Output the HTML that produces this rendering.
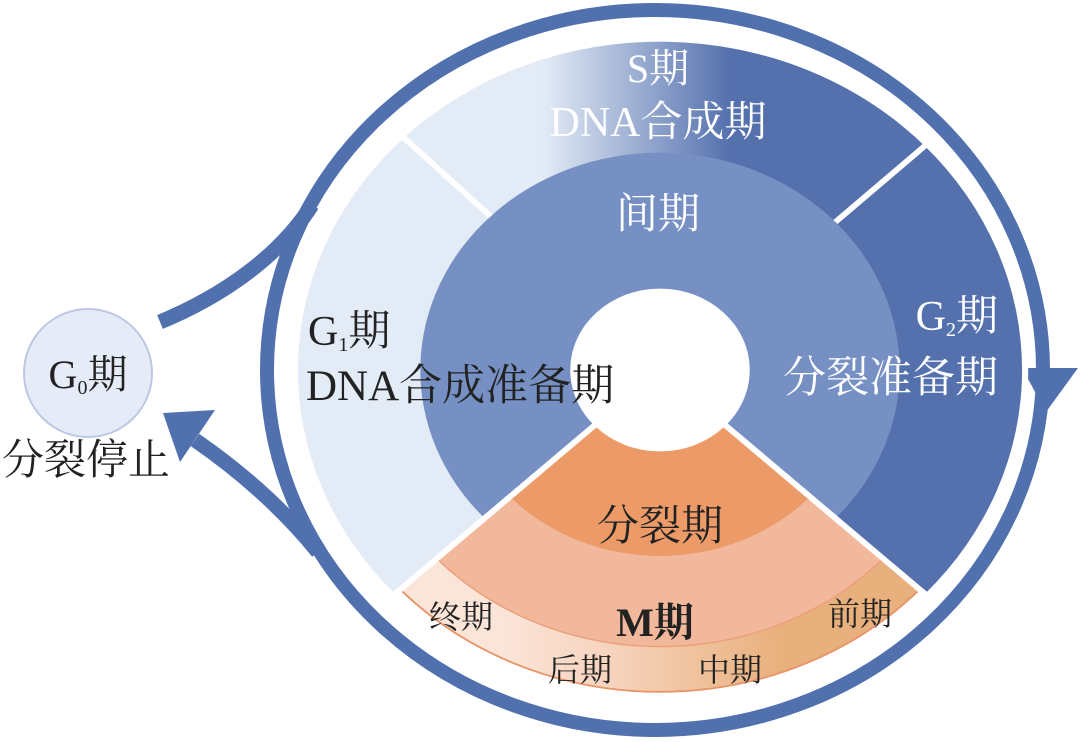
<!DOCTYPE html>
<html><head><meta charset="utf-8"><style>
html,body{margin:0;padding:0;background:#fff;}
svg{display:block;}
text{font-family:"Liberation Serif","Noto Serif CJK SC",serif;}
</style></head><body>
<svg width="1080" height="742" viewBox="0 0 1080 742" xmlns="http://www.w3.org/2000/svg">
<defs>
<linearGradient id="sg" gradientUnits="userSpaceOnUse" x1="-115" y1="0" x2="70" y2="0">
<stop offset="0" stop-color="#e3ebf6"/><stop offset="1" stop-color="#5470ad"/></linearGradient>
<linearGradient id="og" gradientUnits="userSpaceOnUse" x1="-150" y1="0" x2="120" y2="0">
<stop offset="0" stop-color="#fbe4d8"/><stop offset="0.4" stop-color="#f6d2bb"/><stop offset="1" stop-color="#e8b07c"/></linearGradient>
</defs>
<ellipse cx="655" cy="370" rx="388" ry="360" fill="none" stroke="#5170ae" stroke-width="14"/>
<path d="M160 322 C 225 295, 280 255, 312 205" fill="none" stroke="#5170ae" stroke-width="15"/>
<path d="M195 440 C 250 478, 288 515, 318 552" fill="none" stroke="#5170ae" stroke-width="15"/>
<polygon points="163,413 215,410 180,462" fill="#5170ae"/>
<polygon points="1022,368 1078,368 1046,412" fill="#5170ae"/>
<g transform="translate(660,370) scale(1.02,0.925)">
<circle r="361" fill="#fff"/>
<path d="M0 0 L-259.6 242.1 A355 355 0 0 1 -251 -251 Z" fill="#e3ebf6"/>
<path d="M0 0 L-251 -251 A355 355 0 0 1 259.6 -242.1 Z" fill="url(#sg)"/>
<path d="M0 0 L259.6 -242.1 A355 355 0 0 1 259.6 242.1 Z" fill="#5470ad"/>
<path d="M0 0 L254.5 237.3 A348 348 0 0 1 -254.5 237.3 Z" fill="url(#og)" stroke="#e9956a" stroke-width="2"/>
<path d="M0 0 L218.7 203.9 A299 299 0 0 1 -218.7 203.9 Z" fill="#f2b89b" stroke="#ec9f78" stroke-width="1.5"/>
<path d="M0 0 L147 137.1 A201 201 0 0 1 -147 137.1 Z" fill="#eb9a68"/>
<path d="M0 0 L-171.9 160.3 A235 235 0 1 1 171.9 160.3 Z" fill="#7690c4"/>
<line x1="-166" y1="-166" x2="-260" y2="-260" stroke="#fff" stroke-width="6"/>
<line x1="172" y1="-160" x2="270" y2="-252" stroke="#fff" stroke-width="6"/>
<line x1="0" y1="0" x2="264" y2="246" stroke="#fff" stroke-width="6"/>
<line x1="0" y1="0" x2="-264" y2="246" stroke="#fff" stroke-width="6"/>
<circle r="88" fill="#fff"/>
</g>
<circle cx="88" cy="373" r="64" fill="#e6ecf7" stroke="#bcc8e3" stroke-width="2"/>
<text x="88" y="388" font-size="40" text-anchor="middle" fill="#222">G<tspan font-size="20" dy="6">0</tspan><tspan dy="-6">期</tspan></text>
<text x="86" y="474" font-size="42" text-anchor="middle" fill="#222">分裂停止</text>
<text x="658" y="82" font-size="40" text-anchor="middle" fill="#fff">S期</text>
<text x="658" y="136" font-size="42" text-anchor="middle" fill="#fff">DNA合成期</text>
<text x="658" y="228" font-size="42" text-anchor="middle" fill="#fff">间期</text>
<text x="308" y="345" font-size="42" fill="#222">G<tspan font-size="20" dy="6">1</tspan><tspan dy="-6">期</tspan></text>
<text x="306" y="400" font-size="43" fill="#222">DNA合成准备期</text>
<text x="998" y="330" font-size="42" text-anchor="end" fill="#fff">G<tspan font-size="20" dy="6">2</tspan><tspan dy="-6">期</tspan></text>
<text x="998" y="392" font-size="43" text-anchor="end" fill="#fff">分裂准备期</text>
<text x="660" y="540" font-size="42" text-anchor="middle" fill="#222">分裂期</text>
<text x="655" y="636" font-size="40" text-anchor="middle" fill="#222" font-weight="bold">M期</text>
<text x="461" y="628" font-size="32" text-anchor="middle" fill="#222">终期</text>
<text x="860" y="625" font-size="32" text-anchor="middle" fill="#222">前期</text>
<text x="580" y="681" font-size="32" text-anchor="middle" fill="#222">后期</text>
<text x="730" y="681" font-size="32" text-anchor="middle" fill="#222">中期</text>
</svg>
</body></html>
